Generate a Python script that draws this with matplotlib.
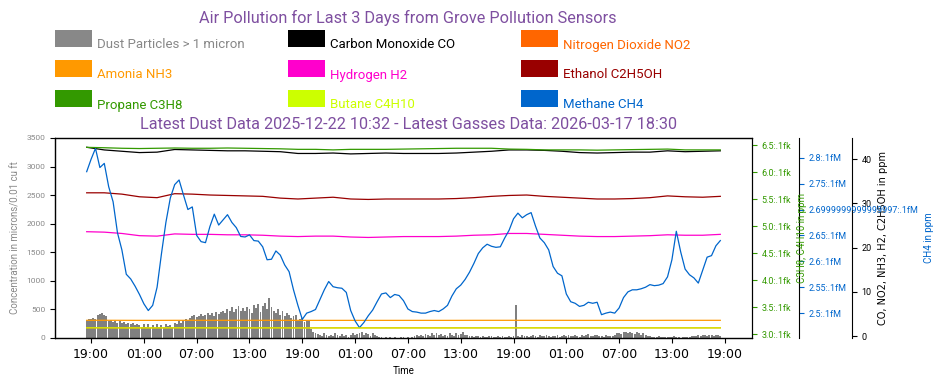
import numpy as np
import pandas as pd
import matplotlib
matplotlib.use("Agg")
import matplotlib.pyplot as plt
import matplotlib.dates as mdates
from matplotlib.patches import Rectangle

plt.rcParams['font.family'] = ['Roboto', 'DejaVu Sans']

start = pd.Timestamp("2026-03-14 18:30")
end = pd.Timestamp("2026-03-17 18:30")

# dust particles, one value every 15 minutes
dust = [
    320, 340, 330, 350, 340, 400, 420, 440, 410, 380, 300, 310, 280, 300, 270, 290, 260, 280, 250, 270, 240, 260, 230, 250,
    220, 190, 240, 200, 250, 180, 230, 170, 240, 200, 220, 190, 250, 210, 230, 200, 270, 250, 290, 260, 320, 340, 310, 350,
    380, 400, 360, 390, 420, 380, 410, 440, 400, 430, 380, 460, 420, 450, 480, 430, 500, 470, 540, 450, 510, 560, 480, 520,
    470, 550, 500, 440, 580, 520, 600, 460, 560, 620, 500, 700, 540, 480, 430, 510, 400, 470, 380, 440, 400, 350, 380, 410,
    300, 330, 350, 280, 310, 320, 150, 110, 90, 70, 60, 40, 80, 50, 30, 60, 40, 90, 50, 30, 70, 40, 60, 20,
    60, 80, 50, 70, 90, 110, 60, 80, 70, 40, 90, 60, 30, 20, 10, 0, 10, 0, 20, 0, 10, 0, 0, 15,
    10, 0, 20, 0, 10, 30, 50, 40, 60, 30, 70, 50, 40, 80, 60, 90, 50, 70, 40, 60, 30, 80, 60, 40,
    90, 60, 70, 100, 60, 50, 30, 40, 20, 30, 40, 20, 30, 10, 20, 40, 30, 20, 10, 30, 20, 30, 10, 20,
    30, 20, 30, 570, 40, 20, 50, 30, 40, 20, 30, 60, 40, 20, 50, 30, 40, 50, 30, 20, 40, 30, 50, 20,
    40, 50, 30, 60, 40, 30, 50, 40, 20, 50, 30, 60, 70, 40, 30, 50, 60, 40, 30, 20, 50, 40, 30, 40,
    60, 80, 90, 70, 100, 110, 80, 100, 90, 70, 110, 80, 60, 90, 50, 40, 30, 20, 10, 20, 30, 15, 10, 20,
    10, 20, 15, 30, 10, 20, 0, 10, 15, 20, 10, 30, 40, 30, 50, 40, 60, 50, 40, 60, 50, 40, 60, 50,
    40,
]

# methane, one value every 30 minutes (millions)
ch4 = [
    2.773, 2.797, 2.818, 2.781, 2.789, 2.744, 2.715, 2.655, 2.622, 2.575, 2.566, 2.552,
    2.536, 2.518, 2.505, 2.515, 2.550, 2.615, 2.675, 2.722, 2.748, 2.757, 2.728, 2.700,
    2.705, 2.650, 2.638, 2.636, 2.667, 2.691, 2.670, 2.680, 2.690, 2.675, 2.665, 2.648,
    2.647, 2.651, 2.640, 2.639, 2.628, 2.603, 2.604, 2.620, 2.612, 2.593, 2.580, 2.545,
    2.515, 2.488, 2.500, 2.503, 2.507, 2.526, 2.545, 2.561, 2.551, 2.549, 2.548, 2.540,
    2.505, 2.485, 2.472, 2.482, 2.495, 2.506, 2.522, 2.537, 2.539, 2.530, 2.536, 2.534,
    2.524, 2.508, 2.503, 2.502, 2.500, 2.500, 2.503, 2.505, 2.503, 2.508, 2.515, 2.533,
    2.547, 2.554, 2.565, 2.579, 2.596, 2.615, 2.626, 2.633, 2.629, 2.627, 2.628, 2.645,
    2.660, 2.682, 2.693, 2.684, 2.690, 2.694, 2.668, 2.645, 2.636, 2.622, 2.590, 2.577,
    2.572, 2.537, 2.522, 2.519, 2.513, 2.515, 2.521, 2.519, 2.521, 2.497, 2.500, 2.502,
    2.500, 2.510, 2.530, 2.541, 2.545, 2.545, 2.547, 2.550, 2.555, 2.553, 2.554, 2.557,
    2.570, 2.603, 2.658, 2.618, 2.585, 2.574, 2.568, 2.558, 2.583, 2.608, 2.611, 2.630,
    2.640,
]

# other gases, one value every 2 hours
co = [42.7, 42.1, 41.8, 41.5, 41.6, 42.2, 42.1, 42.0, 41.9, 41.9, 41.8, 41.7, 41.3,
      41.3, 41.4, 41.2, 41.3, 41.4, 41.3, 41.3, 41.3, 41.4, 41.6, 41.8, 42.1, 42.1,
      42.0, 41.8, 41.5, 41.4, 41.5, 41.6, 41.6, 41.9, 41.7, 41.8, 41.9]
ethanol = [32.4, 32.4, 32.1, 31.5, 31.3, 32.2, 32.1, 31.9, 31.8, 31.7, 31.6, 31.2, 31.0,
           31.2, 31.4, 31.0, 30.9, 31.0, 31.0, 31.0, 31.0, 31.1, 31.3, 31.6, 31.8, 31.9,
           31.6, 31.4, 31.2, 31.0, 31.0, 31.1, 31.3, 31.7, 31.5, 31.4, 31.6]
hydrogen = [23.6, 23.5, 23.2, 22.7, 22.6, 23.1, 23.0, 23.0, 22.9, 22.9, 22.8, 22.6, 22.5,
            22.6, 22.6, 22.4, 22.3, 22.4, 22.5, 22.5, 22.5, 22.6, 22.8, 22.9, 23.2, 23.2,
            23.0, 22.8, 22.6, 22.5, 22.5, 22.6, 22.7, 22.9, 22.8, 22.8, 23.0]
ammonia = [3.55, 3.56, 3.55, 3.54, 3.54, 3.55, 3.55, 3.55, 3.55, 3.55, 3.55, 3.54, 3.54,
           3.54, 3.54, 3.54, 3.54, 3.54, 3.54, 3.54, 3.54, 3.54, 3.55, 3.55, 3.55, 3.55,
           3.55, 3.55, 3.54, 3.54, 3.54, 3.54, 3.54, 3.55, 3.55, 3.55, 3.55]
no2 = [1.86, 1.86, 1.85, 1.85, 1.85, 1.86, 1.86, 1.86, 1.85, 1.85, 1.85, 1.85, 1.85,
       1.85, 1.85, 1.85, 1.85, 1.85, 1.85, 1.85, 1.85, 1.85, 1.85, 1.85, 1.86, 1.86,
       1.86, 1.85, 1.85, 1.85, 1.85, 1.85, 1.85, 1.85, 1.85, 1.85, 1.85]
propane = [6.457, 6.45, 6.44, 6.435, 6.44, 6.445, 6.44, 6.44, 6.445, 6.44, 6.435, 6.43, 6.42,
           6.42, 6.41, 6.42, 6.42, 6.42, 6.425, 6.43, 6.435, 6.44, 6.44, 6.44, 6.425, 6.42,
           6.41, 6.41, 6.41, 6.405, 6.41, 6.415, 6.42, 6.425, 6.41, 6.41, 6.41]
butane = [3.118, 3.118, 3.117, 3.117, 3.117, 3.118, 3.118, 3.117, 3.117, 3.117, 3.117, 3.117, 3.116,
          3.116, 3.116, 3.116, 3.116, 3.116, 3.116, 3.116, 3.116, 3.116, 3.117, 3.117, 3.117, 3.117,
          3.117, 3.117, 3.116, 3.116, 3.116, 3.116, 3.117, 3.117, 3.117, 3.117, 3.117]

green_ticks = [3.0, 3.5, 4.0, 4.5, 5.0, 5.5, 6.0, 6.5]
green_labels = ["3.0:.1fk", "3.5:.1fk", "4.0:.1fk", "4.5:.1fk", "5.0:.1fk", "5.5:.1fk", "6.0:.1fk", "6.5:.1fk"]
blue_ticks = [2.5, 2.55, 2.6, 2.65, 2.7, 2.75, 2.8]
blue_labels = ["2.5:.1fM", "2.55:.1fM", "2.6:.1fM", "2.65:.1fM", "2.6999999999999997:.1fM", "2.75:.1fM", "2.8:.1fM"]

legend_labels = ["Dust Particles > 1 micron", "Carbon Monoxide CO", "Nitrogen Dioxide NO2",
                 "Amonia NH3", "Hydrogen H2", "Ethanol C2H5OH",
                 "Propane C3H8", "Butane C4H10", "Methane CH4"]
legend_colors = ["#888888", "#000000", "#FF6600",
                 "#FF9900", "#FF00CC", "#990000",
                 "#339900", "#CCFF00", "#0066CC"]

t_dust = pd.date_range(start, end, freq="15min")
t_ch4 = pd.date_range(start, end, freq="30min")
t_gas = pd.date_range(start, end, freq="2h")

W, H = 942, 385
purple = "#7E4FA0"
grey = "#888888"

fig = plt.figure(figsize=(W / 100, H / 100), dpi=100)
ax = fig.add_axes([55 / W, 1 - 338 / H, 697 / W, 200 / H])
ax_gas = ax.twinx()
ax_ch4 = ax.twinx()
ax_lpg = ax.twinx()
ax_gas.spines['right'].set_position(('axes', 1 + 100 / 697))
ax_ch4.spines['right'].set_position(('axes', 1 + 47 / 697))

ax.bar(t_dust, dust, width=13.5 / 1440, color="#808080", linewidth=0)
ax.set_ylim(0, 3500)
ax.set_xlim(start - pd.Timedelta(hours=3.6), end + pd.Timedelta(hours=3.6))
ax.xaxis.set_major_locator(mdates.HourLocator(byhour=[1, 7, 13, 19]))
ax.xaxis.set_major_formatter(mdates.DateFormatter("%H:%M"))
for lab in ax.get_xticklabels():
    lab.set_family("DejaVu Sans")
    lab.set_fontsize(9)
ax.tick_params(axis='y', labelsize=6, labelcolor=grey)
ax.set_ylabel("Concentration in microns/0.01 cu ft", color=grey, fontsize=7)
ax.set_xlabel("Time", fontsize=7)

ax_gas.plot(t_gas, co, color="#000000", lw=0.9)
ax_gas.plot(t_gas, no2, color="#FF6600", lw=0.9)
ax_gas.plot(t_gas, ammonia, color="#FF9900", lw=0.9)
ax_gas.plot(t_gas, hydrogen, color="#FF00CC", lw=0.9)
ax_gas.plot(t_gas, ethanol, color="#990000", lw=0.9)
ax_gas.set_ylim(-0.45, 44.8)
ax_gas.tick_params(axis='y', labelsize=6.5)
ax_gas.set_ylabel("CO, NO2, NH3, H2, C2H5OH in ppm", fontsize=7, family="DejaVu Sans")

ax_ch4.plot(t_ch4, ch4, color="#0066CC", lw=0.9)
ax_ch4.set_ylim(2.452, 2.838)
ax_ch4.set_yticks(blue_ticks, blue_labels)
ax_ch4.tick_params(axis='y', colors="#0066CC", labelsize=6.5)
ax_ch4.spines['right'].set_color("black")
ax_ch4.set_ylabel("CH4 in ppm", color="#0066CC", fontsize=7)

ax_lpg.plot(t_gas, propane, color="#339900", lw=0.9)
ax_lpg.plot(t_gas, butane, color="#CCFF00", lw=0.9)
ax_lpg.set_ylim(2.93, 6.63)
ax_lpg.set_yticks(green_ticks, green_labels)
ax_lpg.tick_params(axis='y', colors="#339900", labelsize=6.5)
ax_lpg.set_ylabel("C3H8, C4H10 in ppm", color="#339900", fontsize=7)

fig.text(408 / W, 1 - 17.5 / H, "Air Pollution for Last 3 Days from Grove Pollution Sensors",
         color=purple, fontsize=11.7, ha="center", va="center")
fig.text(408 / W, 1 - 124.5 / H,
         "Latest Dust Data 2025-12-22 10:32 - Latest Gasses Data: 2026-03-17 18:30",
         color=purple, fontsize=11.7, ha="center", va="center")

col_x = [55, 288, 521]
row_y = [30, 60, 90]
for i, (label, color) in enumerate(zip(legend_labels, legend_colors)):
    x0 = col_x[i % 3]
    y0 = row_y[i // 3]
    fig.add_artist(Rectangle((x0 / W, 1 - (y0 + 17) / H), 37 / W, 17 / H,
                             transform=fig.transFigure, color=color, lw=0))
    fig.text((x0 + 42) / W, 1 - (y0 + 18.5) / H, label, color=color, fontsize=9.5,
             ha="left", va="baseline")

fig.savefig("out.png", dpi=100)
